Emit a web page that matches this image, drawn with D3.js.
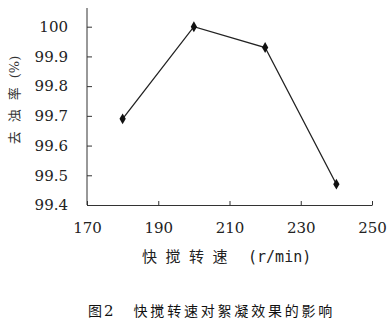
<!DOCTYPE html>
<html>
<head>
<meta charset="utf-8">
<script src="https://cdn.jsdelivr.net/npm/d3@7"></script>
<style>
  body { margin: 0; background: #fff; }
  svg { display: block; }
</style>
</head>
<body>
<div id="chart"></div>
<script>
const speeds = [180, 200, 220, 240];
const removal = [99.69, 100.0, 99.93, 99.47];
const xTicks = [170, 190, 210, 230, 250];
const yTicks = [99.4, 99.5, 99.6, 99.7, 99.8, 99.9, 100];

const serif = "'DejaVu Serif', 'Liberation Serif', 'Times New Roman', serif";
const mono = "'DejaVu Sans Mono', 'Liberation Mono', monospace";

const width = 389;
const height = 322;
const margin = { top: 8, right: 17, bottom: 117, left: 87 };

const svg = d3.select("#chart")
  .append("svg")
  .attr("width", width)
  .attr("height", height);

const x = d3.scaleLinear()
  .domain([170, 250])
  .range([margin.left, width - margin.right]);

const y = d3.scaleLinear()
  .domain([99.4, 100])
  .range([height - margin.bottom, 26.7]);

// x axis
const xAxis = svg.append("g")
  .attr("transform", `translate(0,${height - margin.bottom})`)
  .call(d3.axisBottom(x).tickValues(xTicks).tickFormat(d3.format("d")).tickSizeInner(-4).tickSizeOuter(0).tickPadding(17));
xAxis.attr("font-family", serif).attr("font-size", 15);
xAxis.select(".domain").attr("stroke", "#333").attr("stroke-width", 1);
xAxis.selectAll(".tick line").attr("stroke", "#333");
xAxis.selectAll(".tick text").attr("fill", "#222");

// y axis, the line reaches above the top tick
const yAxis = svg.append("g")
  .attr("transform", `translate(${margin.left},0)`)
  .call(d3.axisLeft(y).tickValues(yTicks)
    .tickFormat((d) => (d === 100 ? "100" : d3.format(".1f")(d)))
    .tickSizeInner(-5).tickSizeOuter(0).tickPadding(19));
yAxis.attr("font-family", serif).attr("font-size", 15);
yAxis.select(".domain").remove();
yAxis.append("line")
  .attr("x1", 0).attr("x2", 0)
  .attr("y1", margin.top).attr("y2", height - margin.bottom)
  .attr("stroke", "#333");
yAxis.selectAll(".tick line").attr("stroke", "#333");
yAxis.selectAll(".tick text").attr("fill", "#222");

const points = speeds.map((s, i) => [s, removal[i]]);

svg.append("path")
  .datum(points)
  .attr("fill", "none")
  .attr("stroke", "#222")
  .attr("stroke-width", 1.3)
  .attr("d", d3.line().x((d) => x(d[0])).y((d) => y(d[1])));

svg.append("g")
  .selectAll("path")
  .data(points)
  .join("path")
  .attr("transform", (d) => `translate(${x(d[0])},${y(d[1])})`)
  .attr("d", d3.symbol().type(d3.symbolDiamond).size(34))
  .attr("fill", "#111");

// x axis title
const xTitle = svg.append("text")
  .attr("x", 142)
  .attr("y", 262)
  .attr("fill", "#222");
xTitle.append("tspan")
  .attr("font-family", "Noto Sans CJK SC")
  .attr("font-size", 15)
  .attr("letter-spacing", 8.5)
  .text("快搅转速");
xTitle.append("tspan")
  .attr("dx", 12)
  .attr("font-family", mono)
  .attr("font-size", 15)
  .text("(r/min)");

// y axis title
const yTitle = svg.append("text")
  .attr("transform", "translate(19,100) rotate(-90)")
  .attr("text-anchor", "middle")
  .attr("fill", "#333");
yTitle.append("tspan")
  .attr("font-family", "Noto Sans CJK SC")
  .attr("font-size", 13)
  .attr("letter-spacing", 9)
  .text("去浊率");
yTitle.append("tspan")
  .attr("font-family", serif)
  .attr("font-size", 13)
  .text("(%)");

// caption
const caption = svg.append("text")
  .attr("x", 88)
  .attr("y", 316)
  .attr("fill", "#111")
  .attr("font-family", "Noto Sans CJK SC")
  .attr("font-size", 14);
caption.append("tspan").text("图");
caption.append("tspan").attr("dx", 2).attr("font-family", serif).attr("font-size", 15).text("2");
caption.append("tspan").attr("dx", 20).attr("letter-spacing", 2.8).text("快搅转速对絮凝效果的影响");
</script>
</body>
</html>
